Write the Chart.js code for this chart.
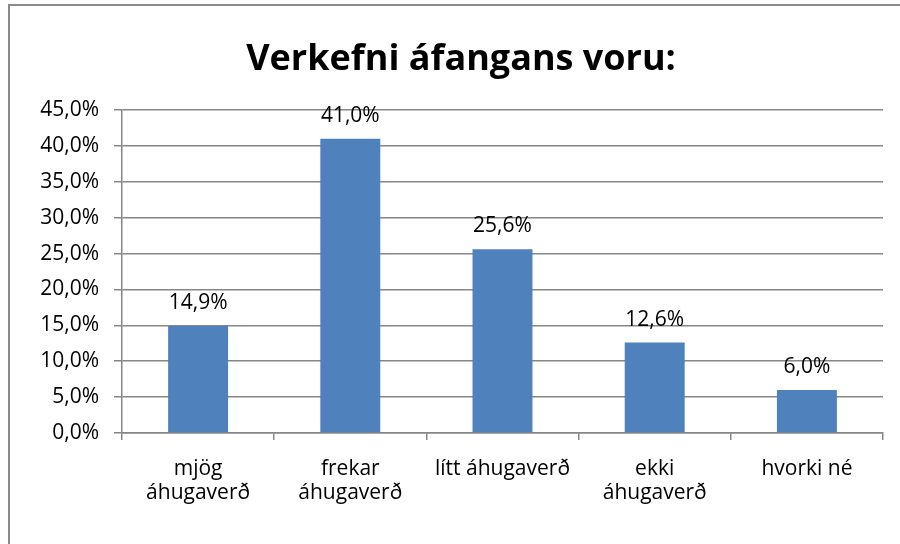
<!DOCTYPE html>
<html><head><meta charset="utf-8">
<script src="https://cdn.jsdelivr.net/npm/chart.js@4"></script>
<style>
html,body{margin:0;padding:0;background:#fff;}
#wrap{position:relative;width:900px;height:544px;overflow:hidden;}
#frame{position:absolute;left:8px;top:4px;width:1000px;height:1000px;border-left:2px solid #8a8a8a;border-top:2px solid #8a8a8a;pointer-events:none;}
canvas{position:absolute;left:0;top:0;}
</style></head><body>
<div id="wrap"><canvas id="c" width="900" height="544"></canvas><div id="frame"></div></div>
<script>
const titleText = 'Verkefni áfangans voru:';
const categories = [['mjög','áhugaverð'],['frekar','áhugaverð'],'lítt áhugaverð',['ekki','áhugaverð'],'hvorki né'];
const values = [14.9, 41.0, 25.6, 12.6, 6.0];
const yMin = 0, yMax = 45, yStep = 5;

const FONT = '"Open Sans", sans-serif';
const fmt = v => v.toFixed(1).replace('.', ',') + '%';

const labelPlugin = {
  id: 'valLabels',
  afterDatasetsDraw(chart) {
    const ctx = chart.ctx;
    const meta = chart.getDatasetMeta(0);
    ctx.save();
    ctx.font = '21px ' + FONT;
    ctx.fillStyle = '#000';
    ctx.textAlign = 'center';
    ctx.textBaseline = 'alphabetic';
    meta.data.forEach((el, i) => {
      ctx.fillText(fmt(values[i]), el.x, el.y - 17);
    });
    ctx.restore();
  }
};
const titlePlugin = {
  id: 'customTitle',
  afterDraw(chart) {
    const ctx = chart.ctx;
    ctx.save();
    ctx.font = 'bold 36px ' + FONT;
    ctx.fillStyle = '#000';
    ctx.textAlign = 'center';
    ctx.textBaseline = 'alphabetic';
    ctx.fillText(titleText, 461, 70);
    ctx.restore();
  }
};

new Chart(document.getElementById('c'), {
  type: 'bar',
  data: { labels: categories, datasets: [{ data: values, backgroundColor: '#4F81BD', borderWidth: 0, categoryPercentage: 1, barPercentage: 0.394 }] },
  options: {
    responsive: false, animation: false,
    layout: { padding: { top: 110, right: 17, bottom: 0, left: 0 } },
    plugins: { legend: { display: false }, tooltip: { enabled: false }, title: { display: false } },
    scales: {
      x: {
        offset: true,
        grid: { offset: true, drawOnChartArea: false, drawTicks: true, tickLength: 7, color: '#868686', lineWidth: 1.5 },
        border: { display: true, color: '#868686', width: 1.5 },
        ticks: { color: '#000', font: { family: FONT, size: 21, lineHeight: 1.15 }, padding: 17, maxRotation: 0, autoSkip: false },
        afterFit(s) { s.height = 111; }
      },
      y: {
        min: yMin, max: yMax,
        grid: { color: '#868686', lineWidth: 1.5, tickLength: 8 },
        border: { display: true, color: '#868686', width: 1.5 },
        ticks: { stepSize: yStep, color: '#000', font: { family: FONT, size: 21 }, padding: 15, callback: v => fmt(v) },
        afterFit(s) { s.width = 122; }
      }
    }
  },
  plugins: [labelPlugin, titlePlugin]
});
</script>
</body></html>
